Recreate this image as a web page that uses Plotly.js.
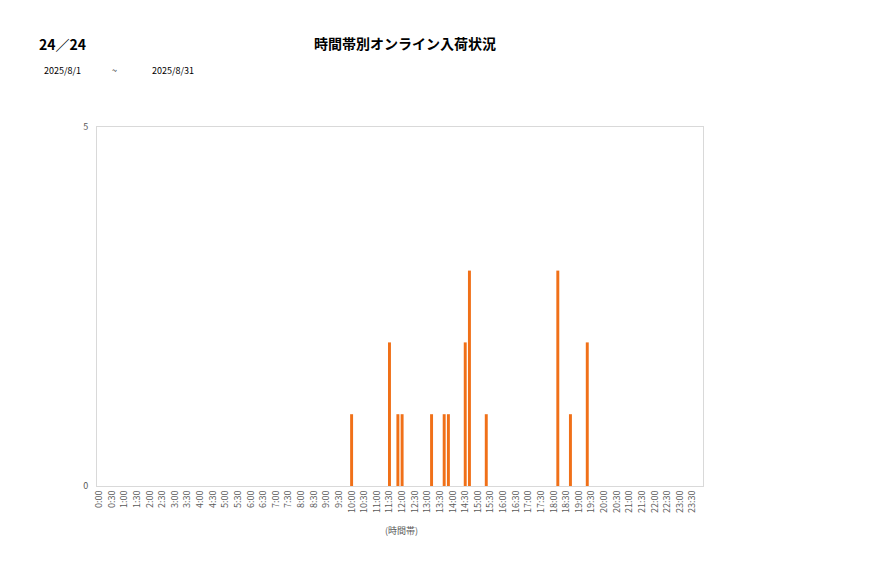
<!DOCTYPE html>
<html>
<head>
<meta charset="utf-8">
<script src="https://cdn.plot.ly/plotly-3.0.1.min.js"></script>
<style>
  html, body { margin: 0; padding: 0; background: #fff; }
  #myDiv { width: 877px; height: 578px; }
</style>
</head>
<body>
<div id="myDiv"></div>
<script>
// time slots with arrivals (10-minute bins) and their counts
var arrivalTimes = ['10:00', '11:30', '11:50', '12:00', '13:10', '13:40', '13:50',
                    '14:30', '14:40', '15:20', '18:10', '18:40', '19:20'];
var arrivalCounts = [1, 2, 1, 1, 1, 1, 1, 2, 3, 1, 3, 1, 2];

// axis ticks every 30 minutes
var tickLabels = ['0:00', '0:30', '1:00', '1:30', '2:00', '2:30', '3:00', '3:30',
                  '4:00', '4:30', '5:00', '5:30', '6:00', '6:30', '7:00', '7:30',
                  '8:00', '8:30', '9:00', '9:30', '10:00', '10:30', '11:00', '11:30',
                  '12:00', '12:30', '13:00', '13:30', '14:00', '14:30', '15:00', '15:30',
                  '16:00', '16:30', '17:00', '17:30', '18:00', '18:30', '19:00', '19:30',
                  '20:00', '20:30', '21:00', '21:30', '22:00', '22:30', '23:00', '23:30'];

// all 10-minute slots of the day, used as the category axis
var slots = [];
for (var h = 0; h < 24; h++) {
  for (var m = 0; m < 60; m += 10) {
    slots.push(h + ':' + (m < 10 ? '0' + m : m));
  }
}

var counts = slots.map(function (s) {
  var k = arrivalTimes.indexOf(s);
  return k >= 0 ? arrivalCounts[k] : 0;
});

var font = 'Noto Sans CJK JP, Noto Sans, sans-serif';

var bars = {
  type: 'bar',
  x: slots,
  y: counts,
  marker: { color: '#F07018', line: { width: 0 } },
  hoverinfo: 'x+y'
};

var layout = {
  width: 877,
  height: 578,
  margin: { l: 97, r: 174, t: 127, b: 92 },
  paper_bgcolor: '#fff',
  plot_bgcolor: '#fff',
  showlegend: false,
  bargap: 0.3,
  font: { family: font, size: 9, color: '#595959' },
  title: {
    text: '時間帯別オンライン入荷状況',
    font: { family: font, size: 14, color: '#000', weight: 'bold' },
    x: 405 / 877, xanchor: 'center', xref: 'container',
    y: 1 - 44 / 578, yanchor: 'middle', yref: 'container'
  },
  xaxis: {
    type: 'category',
    categoryorder: 'array',
    categoryarray: slots,
    range: [-0.5, slots.length - 0.5],
    tickmode: 'array',
    tickvals: tickLabels,
    ticktext: tickLabels,
    tickangle: -90,
    ticks: '',
    tickfont: { family: font, size: 9, color: '#595959' },
    showgrid: false,
    showline: true,
    linecolor: '#d9d9d9',
    linewidth: 1,
    mirror: true,
    zeroline: false,
    fixedrange: true
  },
  yaxis: {
    range: [0, 5],
    tickmode: 'array',
    tickvals: [0, 5],
    ticktext: ['0', '5'],
    ticks: '',
    ticklen: 0,
    ticklabelstandoff: 6,
    tickfont: { family: font, size: 9, color: '#595959' },
    showgrid: false,
    showline: true,
    linecolor: '#d9d9d9',
    linewidth: 1,
    mirror: true,
    zeroline: false,
    fixedrange: true
  },
  annotations: [
    {
      text: '24／24', xref: 'paper', yref: 'paper',
      x: -0.099, y: 1.231, xanchor: 'left', yanchor: 'middle', showarrow: false,
      font: { family: font, size: 14, color: '#000', weight: 'bold' }
    },
    {
      text: '2025/8/1', xref: 'paper', yref: 'paper',
      x: -0.091, y: 1.156, xanchor: 'left', yanchor: 'middle', showarrow: false,
      font: { family: font, size: 9, color: '#000' }
    },
    {
      text: '~', xref: 'paper', yref: 'paper',
      x: 0.0297, y: 1.156, xanchor: 'center', yanchor: 'middle', showarrow: false,
      font: { family: font, size: 9, color: '#000' }
    },
    {
      text: '2025/8/31', xref: 'paper', yref: 'paper',
      x: 0.0875, y: 1.156, xanchor: 'left', yanchor: 'middle', showarrow: false,
      font: { family: font, size: 9, color: '#000' }
    },
    {
      text: '(時間帯)', xref: 'paper', yref: 'paper',
      x: 0.503, y: -0.125, xanchor: 'center', yanchor: 'middle', showarrow: false,
      font: { family: font, size: 9, color: '#595959' }
    }
  ]
};

Plotly.newPlot('myDiv', [bars], layout, { displayModeBar: false, staticPlot: true });
</script>
</body>
</html>
